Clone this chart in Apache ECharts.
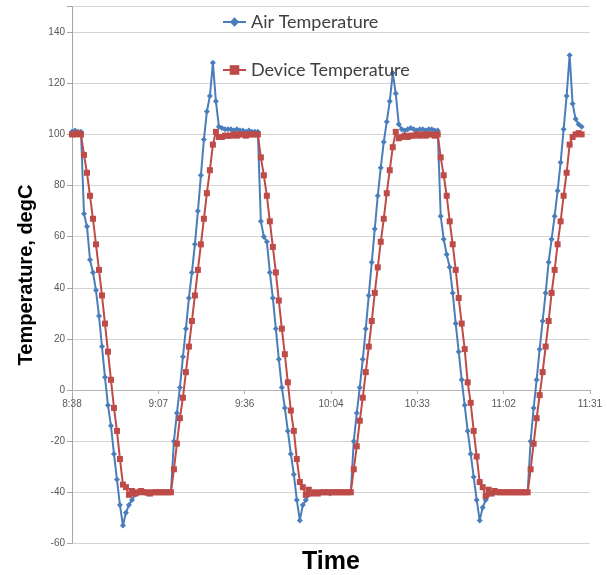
<!DOCTYPE html>
<html>
<head>
<meta charset="utf-8">
<script src="https://cdn.jsdelivr.net/npm/echarts@6/dist/echarts.min.js"></script>
<style>html,body{margin:0;padding:0;background:#fff;}#c{width:607px;height:575px;}</style>
</head>
<body>
<div id="c"></div>
<script>
// Time axis: samples logged once per minute starting at 8:38
const sampleStepMin = 1;
const xTickLabels = ['8:38', '9:07', '9:36', '10:04', '10:33', '11:02', '11:31'];
const xTickStepMin = 28.8;
const yTickValues = [-60, -40, -20, 0, 20, 40, 60, 80, 100, 120, 140];

const airTemperature = [
  101, 101.5, 101, 101,
  69, 64, 51, 46, 39, 29, 17, 5, -6, -14, -25, -35, -45, -53,
  -48, -45, -43, -41, -40.5, -40, -40, -40.5, -40, -40, -40, -40, -40, -40, -40, -40,
  -20, -9, 1, 13, 24, 36, 46, 57, 70, 84, 98, 109, 115, 128, 113, 103,
  102.5, 102, 102, 102, 101.5, 102, 101.5, 101.5, 101, 101.5, 101, 101, 101,
  66, 60, 58, 46, 36, 24, 12, 1, -7, -16, -25, -33, -43, -51,
  -45, -43, -41, -40.5, -40, -40, -40, -40, -40, -40.5, -40, -40, -40, -40, -40, -40, -40,
  -20, -9, 1, 12, 24, 37, 50, 63, 76, 87, 97, 105, 113, 124, 116, 104,
  102, 101.5, 102, 102.5, 102, 101.5, 102, 102, 101.5, 102, 102, 101.5, 101.5,
  68, 59, 53, 48, 38, 26, 15, 4, -6, -16, -25, -34, -43, -51,
  -46, -43, -41, -40.5, -40, -40, -40, -40, -40, -40, -40, -40, -40, -40, -40, -40,
  -20, -7, 4, 16, 27, 38, 50, 59, 68, 78, 89, 102, 115, 131, 112, 106, 104, 103
];

const deviceTemperature = [
  100, 100, 100.5, 100,
  92, 85, 76, 67, 57, 47, 37, 26, 15, 4, -7, -16, -27, -37,
  -38, -41, -39.5, -40.5, -40, -39.5, -40, -40, -40.5, -40, -40, -40, -40, -40, -40, -40,
  -31, -21, -11, -3, 7, 17, 27, 37, 47, 57, 67, 77, 86, 96, 101,
  99, 99, 99.5, 99.5, 99.5, 100, 99.5, 100, 100, 99.5, 100, 100, 100, 100,
  91, 84, 76, 66, 56, 46, 35, 24, 14, 3, -8, -16, -27, -36,
  -38, -41, -39, -40.5, -40, -40.5, -40, -40, -40, -40, -40, -40, -40, -40, -40, -40, -40,
  -31, -22, -12, -3, 7, 17, 27, 38, 48, 58, 67, 77, 86, 95, 101,
  98.5, 99, 99.5, 99, 99.5, 99.5, 100, 99.5, 100, 99.5, 100, 100, 99.5, 100,
  91, 84, 76, 66, 57, 47, 36, 26, 16, 3, -5, -16, -26, -36,
  -38, -41.5, -39, -40.5, -39.5, -40, -40, -40, -40, -40, -40, -40, -40, -40, -40, -40,
  -31, -21, -11, -2, 7, 17, 27, 38, 47, 57, 66, 76, 85, 96, 99, 100, 100.5, 100
];

const yMin = -60, yMax = 150, yInterval = 20;
const toPairs = arr => arr.map((v, i) => [i * sampleStepMin, v]);
const xMax = xTickStepMin * (xTickLabels.length - 1);

const chart = echarts.init(document.getElementById('c'), null, {renderer: 'canvas'});
chart.setOption({
  animation: false,
  backgroundColor: '#ffffff',
  grid: {left: 72, right: 17, top: 6.6, bottom: 31.6, containLabel: false, outerBoundsMode: 'none'},
  legend: {
    orient: 'vertical',
    left: 217, top: 8,
    itemGap: 30, itemWidth: 23, itemHeight: 12,
    textStyle: {fontSize: 18, fontFamily: 'Lato', color: '#404040'},
    data: ['Air Temperature', 'Device Temperature']
  },
  xAxis: [{
    type: 'value', min: 0, max: xMax, interval: xTickStepMin, position: 'bottom', offset: 0,
    axisLine: {show: true, onZero: false, lineStyle: {color: '#b4b4b4', width: 1}},
    axisTick: {show: true, length: 4, lineStyle: {color: '#b4b4b4'}},
    axisLabel: {
      fontSize: 10, color: '#595959', fontFamily: 'Liberation Sans', margin: 9,
      formatter: v => xTickLabels[Math.round(v / xTickStepMin)] || ''
    },
    splitLine: {show: false}
  }, {
    type: 'value', min: 0, max: xMax, position: 'bottom',
    axisLine: {show: false, onZero: false}, axisTick: {show: false},
    axisLabel: {show: false}, splitLine: {show: false},
    name: 'Time', nameLocation: 'middle', nameGap: 6,
    nameTextStyle: {fontSize: 25, fontWeight: 'bold', color: '#000', fontFamily: 'Liberation Sans', verticalAlign: 'top'}
  }],
  yAxis: {
    type: 'value', min: yMin, max: yMax, interval: yInterval,
    axisLine: {show: true, lineStyle: {color: '#a6a6a6'}},
    axisTick: {show: true, length: 5, lineStyle: {color: '#a6a6a6'}},
    axisLabel: {
      fontSize: 10, color: '#595959', fontFamily: 'Liberation Sans', margin: 7,
      formatter: v => (yTickValues.indexOf(v) >= 0 ? String(v) : '')
    },
    splitLine: {show: true, lineStyle: {color: '#d4d4d4', width: 1}},
    name: 'Temperature, degC', nameLocation: 'middle', nameGap: 36,
    nameTextStyle: {fontSize: 20, fontWeight: 'bold', color: '#000', fontFamily: 'Liberation Sans'}
  },
  series: [{
    name: 'Air Temperature', type: 'line', xAxisIndex: 0,
    data: toPairs(airTemperature),
    symbol: 'diamond', symbolSize: 6, showAllSymbol: true,
    lineStyle: {color: '#4a7ebb', width: 2},
    itemStyle: {color: '#4a7ebb'}
  }, {
    name: 'Device Temperature', type: 'line', xAxisIndex: 0,
    data: toPairs(deviceTemperature),
    symbol: 'rect', symbolSize: 6, showAllSymbol: true,
    lineStyle: {color: '#be4b48', width: 2},
    itemStyle: {color: '#be4b48'}
  }]
});

// Move the time axis (line, ticks, labels) up so it crosses the value axis at 0
const pxZero = chart.convertToPixel({yAxisIndex: 0}, 0);
const pxBottom = chart.convertToPixel({yAxisIndex: 0}, yMin);
chart.setOption({xAxis: [{offset: -(pxBottom - pxZero)}, {}]});
</script>
</body>
</html>
